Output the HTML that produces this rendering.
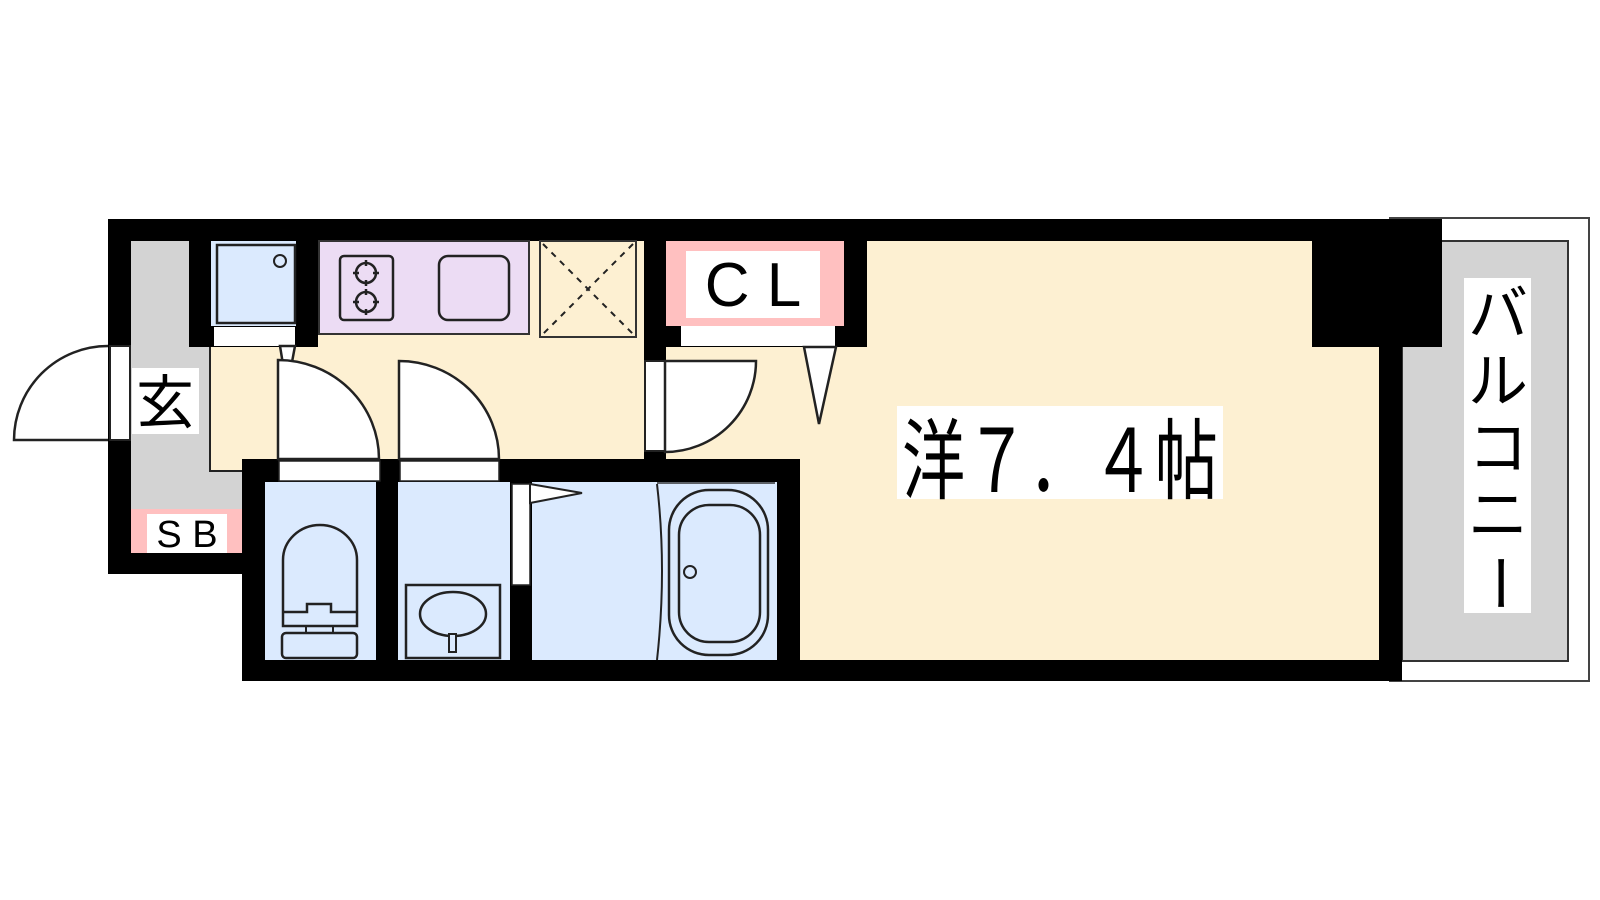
<!DOCTYPE html>
<html><head><meta charset="utf-8"><style>
html,body{margin:0;padding:0;background:#fff;}
svg{display:block;}
text{font-family:"Liberation Sans","Noto Sans CJK JP",sans-serif;}
</style></head><body>
<svg width="1600" height="900" viewBox="0 0 1600 900" xmlns="http://www.w3.org/2000/svg">
<rect x="1390" y="218" width="199" height="463" fill="#fff" stroke="#444" stroke-width="2"/>
<rect x="1402" y="241" width="166" height="420" fill="#d3d3d3" stroke="#333" stroke-width="2"/>
<rect x="1464" y="278" width="67" height="335" fill="#fff"/>

<rect x="131" y="241" width="111" height="268" fill="#d3d3d3"/>
<rect x="210" y="346" width="440" height="125" fill="#fdf0d2" stroke="#222" stroke-width="2"/>
<rect x="242" y="241" width="1137" height="420" fill="#fdf0d2"/>
<rect x="131" y="509" width="111" height="44" fill="#ffc0c0"/>
<rect x="147" y="514" width="80" height="39" fill="#fff"/>

<g fill="#000">
<rect x="108" y="219" width="1334" height="22"/>
<rect x="108" y="219" width="23" height="355"/>
<rect x="108" y="553" width="134" height="21"/>
<rect x="189" y="241" width="129" height="106"/>
<rect x="644" y="241" width="223" height="106"/>
<rect x="644" y="241" width="22" height="218"/>
<rect x="1312" y="241" width="130" height="106"/>
<rect x="1379" y="241" width="23" height="440"/>
<rect x="242" y="459" width="558" height="23"/>
<rect x="242" y="459" width="23" height="222"/>
<rect x="242" y="660" width="1160" height="21"/>
<rect x="376" y="459" width="22" height="222"/>
<rect x="510" y="459" width="22" height="222"/>
<rect x="777" y="459" width="23" height="222"/>
</g>

<rect x="211" y="241" width="85" height="85" fill="#dbeafe"/>
<rect x="217" y="245" width="78" height="78" fill="#dbeafe" stroke="#222" stroke-width="2.5"/>
<circle cx="280" cy="261" r="6" fill="none" stroke="#222" stroke-width="2"/>
<rect x="214" y="327" width="81" height="19" fill="#fff"/>
<polygon points="280,346 295,346 287,389" fill="#fff" stroke="#222" stroke-width="2.5"/>

<rect x="319" y="241" width="210" height="93" fill="#ecdcf4" stroke="#333" stroke-width="2"/>
<rect x="340" y="256" width="53" height="64" rx="4" fill="none" stroke="#222" stroke-width="2.5"/>
<g fill="none" stroke="#222" stroke-width="2.5">
<circle cx="366" cy="273" r="10"/><circle cx="366" cy="302" r="10"/>
<path d="M366 260v6M366 280v6M353 273h6M373 273h6M366 289v6M366 309v6M353 302h6M373 302h6"/>
</g>
<rect x="439" y="256" width="70" height="64" rx="9" fill="none" stroke="#222" stroke-width="2.5"/>
<rect x="540" y="241" width="96" height="96" fill="none" stroke="#333" stroke-width="2"/>
<line x1="543" y1="244" x2="633" y2="334" stroke="#222" stroke-width="2" stroke-dasharray="6,6"/>
<line x1="633" y1="244" x2="543" y2="334" stroke="#222" stroke-width="2" stroke-dasharray="6,6"/>

<rect x="666" y="241" width="178" height="85" fill="#ffc0c0"/>
<rect x="686" y="251" width="134" height="67" fill="#fff"/>
<rect x="681" y="326" width="154" height="20" fill="#fff"/>
<text x="753" y="306" font-size="62" text-anchor="middle">C L</text>
<polygon points="804,347 836,347 819,424" fill="#fff" stroke="#222" stroke-width="2.5"/>

<rect x="645" y="361" width="20" height="90" fill="#fff" stroke="#222" stroke-width="2"/>
<path d="M665 361 L756 361 A91 91 0 0 1 665 452 Z" fill="#fff" stroke="#222" stroke-width="2.5"/>

<rect x="110" y="346" width="20" height="94" fill="#fff" stroke="#222" stroke-width="2"/>
<path d="M108 346 A94 94 0 0 0 14 440 L108 440" fill="#fff" stroke="#222" stroke-width="2.5"/>
<rect x="132" y="368" width="67" height="66" fill="#fff"/>
<text x="165" y="423" font-size="58" text-anchor="middle">玄</text>
<text x="187" y="547" font-size="38" text-anchor="middle">S B</text>

<rect x="265" y="482" width="111" height="178" fill="#dbeafe"/>
<rect x="279" y="461" width="101" height="20" fill="#fff" stroke="#222" stroke-width="1.5"/>
<path d="M278 459 L278 360 A101 99 0 0 1 379 459 Z" fill="#fff" stroke="#222" stroke-width="2.5"/>
<path d="M283 626 L283 560 A37 35 0 0 1 357 560 L357 626 Z" fill="none" stroke="#222" stroke-width="2.5"/>
<path d="M283 612 L307 612 L307 604 L331 604 L331 612 L357 612" fill="none" stroke="#222" stroke-width="2.5"/>
<rect x="306" y="626" width="27" height="7" fill="none" stroke="#222" stroke-width="2"/>
<rect x="282" y="633" width="75" height="25" rx="4" fill="none" stroke="#222" stroke-width="2.5"/>

<rect x="398" y="482" width="112" height="178" fill="#dbeafe"/>
<rect x="400" y="461" width="99" height="20" fill="#fff" stroke="#222" stroke-width="1.5"/>
<path d="M399 459 L399 361 A100 98 0 0 1 499 459 Z" fill="#fff" stroke="#222" stroke-width="2.5"/>
<rect x="406" y="585" width="94" height="73" fill="none" stroke="#222" stroke-width="2.5"/>
<ellipse cx="453" cy="614" rx="33" ry="22" fill="none" stroke="#222" stroke-width="2.5"/>
<rect x="449" y="634" width="7" height="18" fill="#dbeafe" stroke="#222" stroke-width="2"/>

<rect x="532" y="482" width="245" height="178" fill="#dbeafe"/>
<rect x="512" y="484" width="18" height="101" fill="#fff" stroke="#222" stroke-width="1.5"/>
<polygon points="530,484 582,493 530,503" fill="#fff" stroke="#222" stroke-width="2"/>
<path d="M657 484 Q667 570 657 660" fill="none" stroke="#222" stroke-width="2"/>
<line x1="657" y1="483" x2="775" y2="483" stroke="#333" stroke-width="1.5"/>
<rect x="669" y="490" width="99" height="165" rx="40" fill="none" stroke="#222" stroke-width="2.5"/>
<rect x="679" y="505" width="81" height="137" rx="30" fill="none" stroke="#222" stroke-width="2.5"/>
<circle cx="690" cy="572" r="6" fill="none" stroke="#222" stroke-width="2"/>

<rect x="897" y="406" width="326" height="93" fill="#fff"/>
<text x="902" y="492" font-size="88" textLength="316" lengthAdjust="spacingAndGlyphs">洋７．４帖</text>

<g font-size="60" text-anchor="middle">
<text x="1498" y="335">バ</text>
<text x="1498" y="402">ル</text>
<text x="1498" y="469">コ</text>
<text x="1498" y="536">ニ</text>
<text x="1498" y="603" transform="rotate(90 1498 583)">ー</text>
</g>
</svg>
</body></html>
